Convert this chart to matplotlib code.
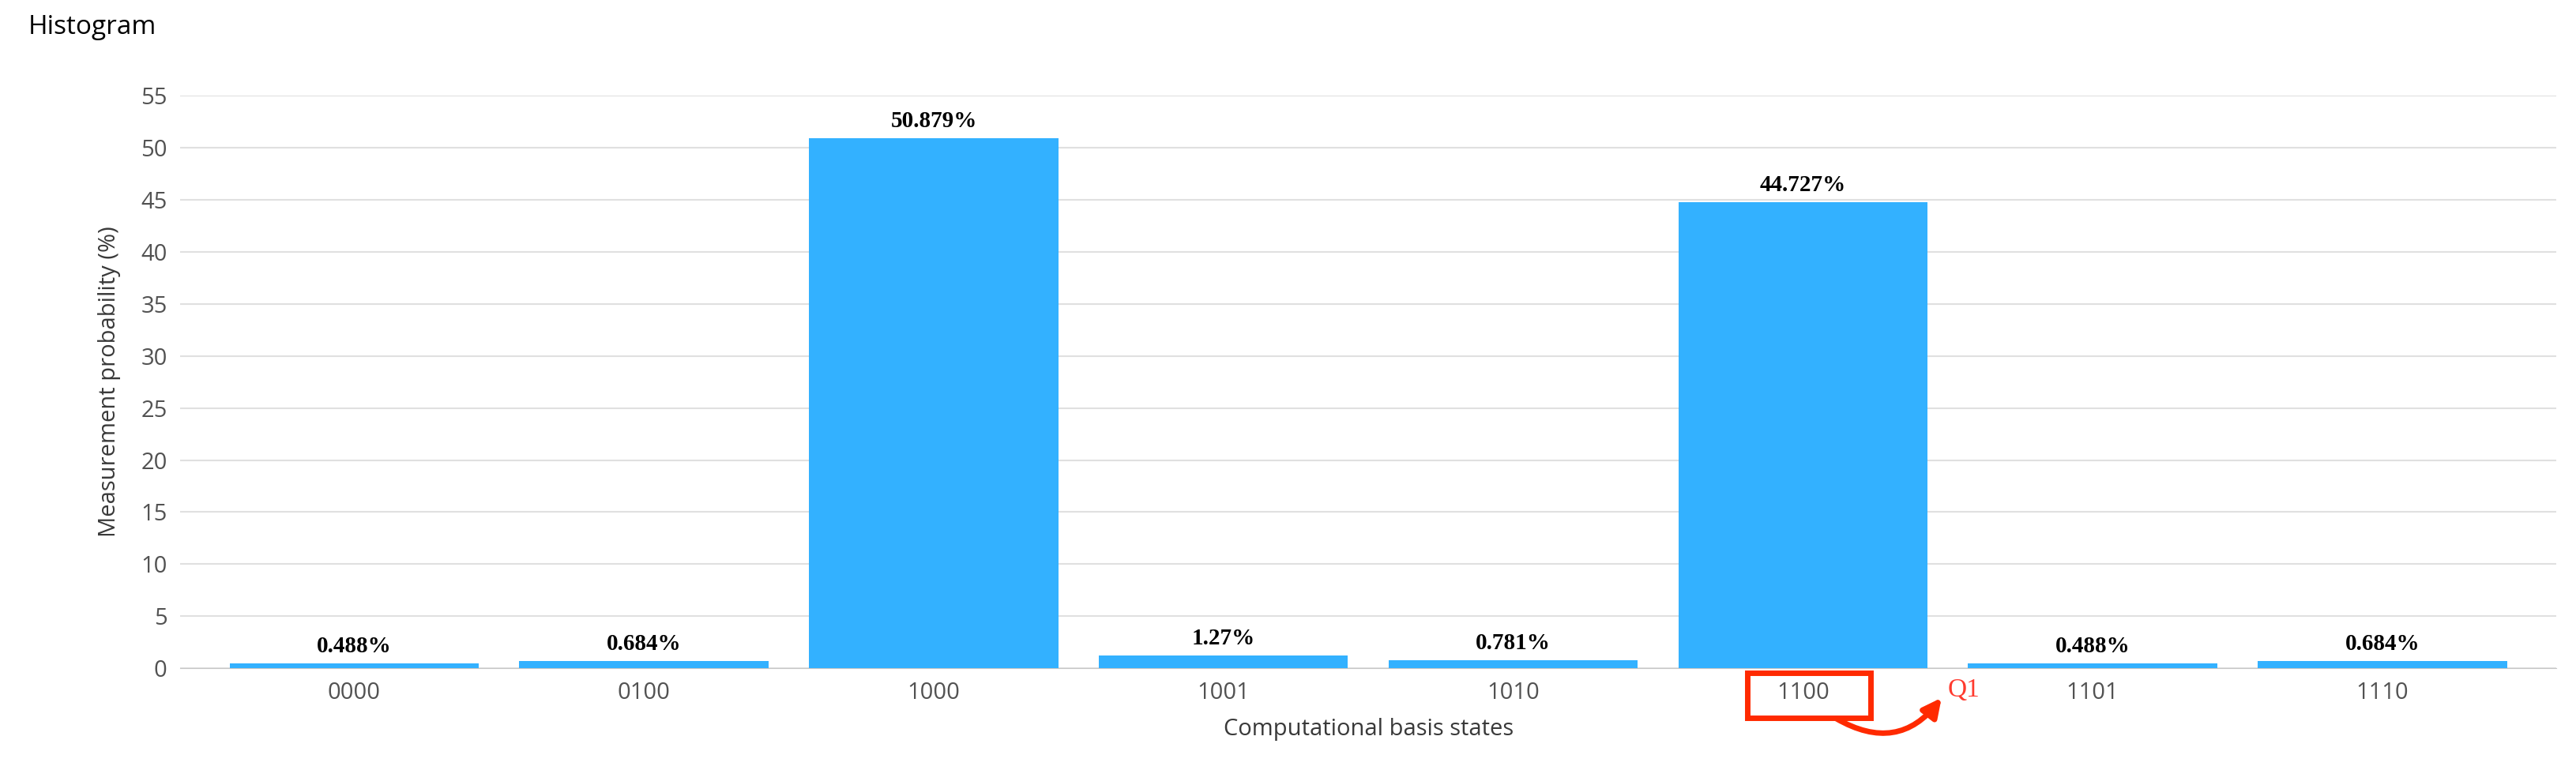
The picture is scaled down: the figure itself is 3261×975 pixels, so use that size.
import matplotlib
matplotlib.use('Agg')
import matplotlib.pyplot as plt
from matplotlib.patches import Rectangle, FancyArrowPatch

states = ['0000', '0100', '1000', '1001', '1010', '1100', '1101', '1110']
probs = [0.488, 0.684, 50.879, 1.27, 0.781, 44.727, 0.488, 0.684]
labels = ['0.488%', '0.684%', '50.879%', '1.27%', '0.781%', '44.727%', '0.488%', '0.684%']
yticks = list(range(0, 56, 5))

plt.rcParams['font.family'] = ['Open Sans', 'DejaVu Sans']

fig = plt.figure(figsize=(32.62, 9.75), dpi=100)
ax = fig.add_axes([0.070, 0.132, 0.922, 0.744])

x = range(len(states))
ax.bar(x, probs, width=0.86, color='#33b1ff', zorder=3)
for i, (p, lab) in enumerate(zip(probs, labels)):
    ax.text(i, p + 0.6, lab, ha='center', va='bottom', fontsize=21,
            fontweight='bold', family='Liberation Serif', color='black')

ax.set_xlim(-0.6, len(states) - 0.4)
ax.set_ylim(0, 55)
ax.set_yticks(yticks)
ax.set_xticks(list(x))
ax.set_xticklabels(states)
ax.tick_params(axis='both', labelsize=21, colors='#525252', length=0, pad=12)
ax.grid(axis='y', color='#e0e0e0', linewidth=1.5, zorder=0)
for s in ['top', 'right', 'left']:
    ax.spines[s].set_visible(False)
ax.spines['bottom'].set_color('#c6c6c6')
ax.set_xlabel('Computational basis states', fontsize=21, color='#393939', labelpad=12)
ax.set_ylabel('Measurement probability (%)', fontsize=21, color='#393939', labelpad=18)

fig.text(0.011, 0.965, 'Histogram', fontsize=24, color='black', va='center')

# red annotation around the 1100 tick
fig.add_artist(Rectangle((0.678, 0.068), 0.048, 0.058, transform=fig.transFigure,
                         fill=False, edgecolor='#ff2a00', linewidth=5))
fig.add_artist(FancyArrowPatch((0.712, 0.068), (0.754, 0.096), transform=fig.transFigure,
                               connectionstyle='arc3,rad=0.45', arrowstyle='-|>',
                               mutation_scale=35, color='#ff2a00', linewidth=5))
fig.text(0.756, 0.104, 'Q1', fontsize=24, color='#ff3b2f', family='Liberation Serif',
         va='center')

fig.savefig('out.png', dpi=100)
